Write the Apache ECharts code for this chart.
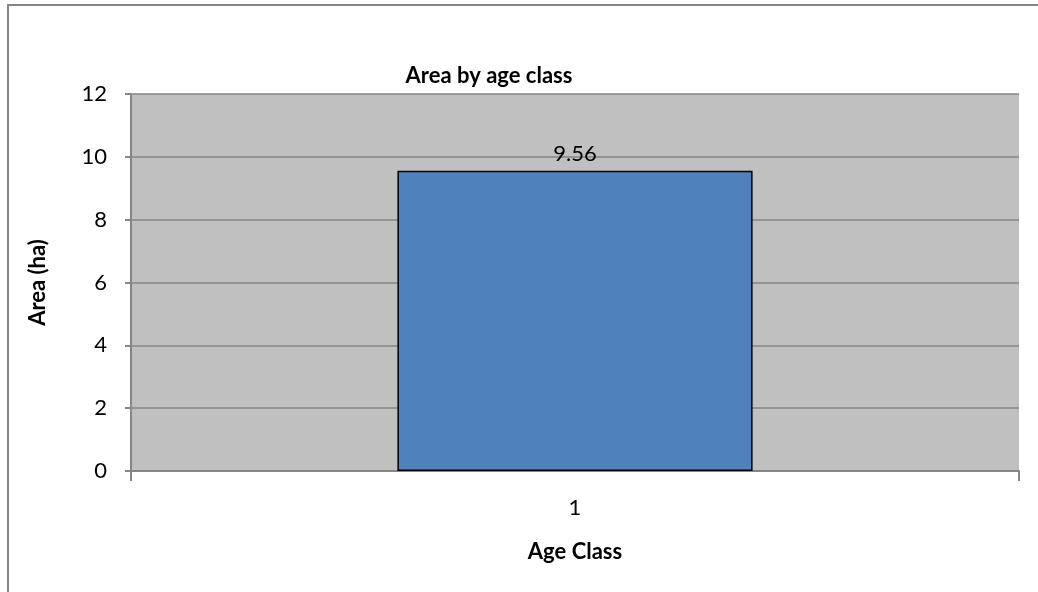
<!DOCTYPE html>
<html><head><meta charset="utf-8">
<script src="https://cdn.jsdelivr.net/npm/echarts@6/dist/echarts.min.js"></script>
<style>html,body{margin:0;padding:0;background:#fff}#c{width:1038px;height:592px}</style>
</head><body><div id="c"></div>
<script>
const categories = ['1'];
const areaValues = [9.56];
const yTicks = [0, 2, 4, 6, 8, 10, 12];

const chart = echarts.init(document.getElementById('c'), null, {renderer: 'canvas'});
const font = 'Lato, "Open Sans", "Liberation Sans", sans-serif';
chart.setOption({
  animation: false,
  backgroundColor: '#ffffff',
  title: {
    text: 'Area by age class', left: 484, top: 60, textAlign: 'center',
    textStyle: {fontFamily: font, fontSize: 22, fontWeight: 'bold', color: '#000'}
  },
  graphic: [{
    type: 'rect', shape: {x: 8, y: 5, width: 1100, height: 700},
    style: {fill: 'none', stroke: '#868686', lineWidth: 2}, silent: true, z: -1
  }],
  grid: {left: 131, top: 94, right: 19, bottom: 121, show: true, backgroundColor: '#C0C0C0', borderWidth: 0},
  xAxis: {
    type: 'category', data: categories,
    name: 'Age Class', nameLocation: 'middle', nameGap: 70,
    nameTextStyle: {fontFamily: font, fontSize: 22, fontWeight: 'bold', color: '#000'},
    axisLine: {lineStyle: {color: '#868686', width: 2}},
    axisTick: {show: true, length: 10, lineStyle: {color: '#868686', width: 2}, interval: 0},
    axisLabel: {fontFamily: font, fontSize: 22, color: '#000', margin: 26}
  },
  yAxis: {
    type: 'value', min: yTicks[0], max: yTicks[yTicks.length - 1], interval: 2,
    name: 'Area (ha)', nameLocation: 'middle', nameGap: 82,
    nameTextStyle: {fontFamily: font, fontSize: 22, fontWeight: 'bold', color: '#000'},
    axisLine: {show: true, lineStyle: {color: '#868686', width: 2}},
    axisTick: {show: true, length: 6, lineStyle: {color: '#868686', width: 2}},
    axisLabel: {fontFamily: font, fontSize: 22, color: '#000', margin: 24},
    splitLine: {lineStyle: {color: '#868686', width: 1.5}}
  },
  series: [{
    type: 'bar', data: areaValues, barWidth: '40%',
    itemStyle: {color: '#4F81BD', borderColor: '#000', borderWidth: 1.5},
    label: {show: true, position: 'top', distance: 6, fontFamily: font, fontSize: 22, color: '#000'}
  }]
});
</script></body></html>
